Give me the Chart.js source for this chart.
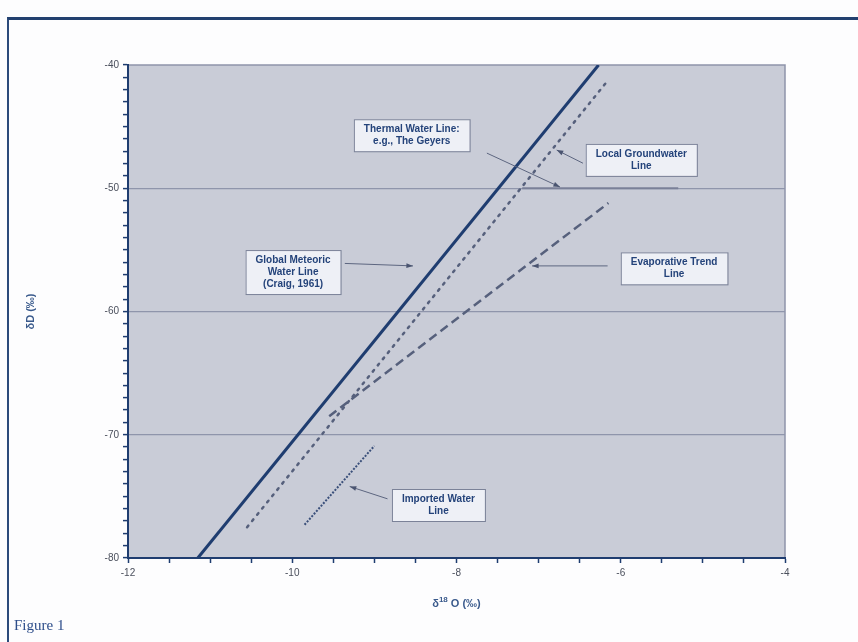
<!DOCTYPE html>
<html>
<head>
<meta charset="utf-8">
<script src="https://cdn.jsdelivr.net/npm/chart.js@4.4.1/dist/chart.umd.min.js"></script>
<style>
  html, body { margin: 0; padding: 0; background: #ffffff; }
  #wrap { position: relative; width: 858px; height: 642px; overflow: hidden; background: #fdfdfe; }
  #frame { position: absolute; left: 7px; top: 17px; width: 860px; height: 640px;
           border-top: 3px solid #22406f; border-left: 2px solid #2c4a7b; }
  #myChart { position: absolute; left: 0; top: 0; }
  #figlabel { position: absolute; left: 14px; top: 617px; font-family: "Liberation Serif", "DejaVu Serif", serif;
              font-size: 15px; color: #2d4d8a; }
</style>
</head>
<body>
<div id="wrap">
  <div id="frame"></div>
  <canvas id="myChart" width="858" height="642"></canvas>
  <div id="figlabel">Figure 1</div>
</div>
<script>
// Linien (delta18O, deltaD)
const gmwlX = [-11.15, -6.27];
const gmwlY = [-80, -40];
const localX = [-10.55, -6.15];
const localY = [-77.5, -41.2];
const evapX = [-9.55, -6.15];
const evapY = [-68.5, -51.2];
const importX = [-9.85, -9.0];
const importY = [-77.3, -70.9];
const thermalX = [-7.2, -5.3];
const thermalY = [-50, -50];

// Achsen
const xTicks = [-12, -10, -8, -6, -4];
const yTicks = [-40, -50, -60, -70, -80];

// Beschriftungen mit Pfeilen
const noteText = [
    ['Thermal Water Line:', 'e.g., The Geyers'],
    ['Local Groundwater', 'Line'],
    ['Global Meteoric', 'Water Line', '(Craig, 1961)'],
    ['Evaporative Trend', 'Line'],
    ['Imported Water', 'Line']
];
const noteX = [-8.545, -5.75, -9.99, -5.35, -8.22];
const noteY = [-45.7, -47.7, -56.8, -56.5, -75.7];
const arrowFromX = [-7.63, -6.46, -9.36, -6.16, -8.84];
const arrowFromY = [-47.15, -47.97, -56.1, -56.3, -75.2];
const arrowToX = [-6.74, -6.78, -8.53, -7.08, -9.30];
const arrowToY = [-49.9, -46.9, -56.3, -56.3, -74.2];

function pts(xs, ys) {
    return xs.map(function (x, i) { return { x: x, y: ys[i] }; });
}

const navy = '#1f3d70';

const bgPlugin = {
    id: 'bgPlugin',
    beforeDraw(chart) {
        const a = chart.chartArea;
        const c = chart.ctx;
        c.save();
        c.fillStyle = '#c9ccd7';
        c.fillRect(a.left, a.top, a.right - a.left, a.bottom - a.top);
        c.strokeStyle = '#8e94aa';
        c.lineWidth = 1.5;
        c.beginPath();
        c.moveTo(a.left, a.top);
        c.lineTo(a.right, a.top);
        c.lineTo(a.right, a.bottom);
        c.stroke();
        c.restore();
    }
};

const notePlugin = {
    id: 'notePlugin',
    afterDatasetsDraw(chart) {
        const c = chart.ctx;
        const xs = chart.scales.x;
        const ys = chart.scales.y;
        c.save();
        // Pfeile
        for (let i = 0; i < noteText.length; i++) {
            const x1 = xs.getPixelForValue(arrowFromX[i]);
            const y1 = ys.getPixelForValue(arrowFromY[i]);
            const x2 = xs.getPixelForValue(arrowToX[i]);
            const y2 = ys.getPixelForValue(arrowToY[i]);
            c.strokeStyle = '#5d6680';
            c.fillStyle = '#4a5470';
            c.lineWidth = 1;
            c.beginPath();
            c.moveTo(x1, y1);
            c.lineTo(x2, y2);
            c.stroke();
            const ang = Math.atan2(y2 - y1, x2 - x1);
            c.beginPath();
            c.moveTo(x2, y2);
            c.lineTo(x2 - 7 * Math.cos(ang - 0.35), y2 - 7 * Math.sin(ang - 0.35));
            c.lineTo(x2 - 7 * Math.cos(ang + 0.35), y2 - 7 * Math.sin(ang + 0.35));
            c.closePath();
            c.fill();
        }
        // Kästchen
        c.font = 'bold 10px "Liberation Sans", Arial, sans-serif';
        c.textAlign = 'center';
        c.textBaseline = 'middle';
        for (let i = 0; i < noteText.length; i++) {
            const lines = noteText[i];
            let w = 0;
            lines.forEach(function (l) { w = Math.max(w, c.measureText(l).width); });
            w += 20;
            const h = lines.length * 12 + 8;
            const cx = xs.getPixelForValue(noteX[i]);
            const cy = ys.getPixelForValue(noteY[i]);
            c.fillStyle = '#eef0f6';
            c.fillRect(cx - w / 2, cy - h / 2, w, h);
            c.strokeStyle = '#7b8298';
            c.lineWidth = 1;
            c.strokeRect(cx - w / 2 + 0.5, cy - h / 2 + 0.5, w, h);
            c.fillStyle = '#24437a';
            lines.forEach(function (l, k) {
                c.fillText(l, cx, cy - h / 2 + 10 + k * 12);
            });
        }
        c.restore();
    },
    afterDraw(chart) {
        const c = chart.ctx;
        const a = chart.chartArea;
        c.save();
        c.fillStyle = '#3a5a8c';
        c.font = 'bold 11px "Liberation Sans", Arial, sans-serif';
        c.textBaseline = 'middle';
        // x-Achsentitel
        const cx = (a.left + a.right) / 2;
        const y = 604;
        const p1 = 'δ';
        const p3 = ' O (‰)';
        c.font = 'bold 11px "Liberation Sans", Arial, sans-serif';
        const w1 = c.measureText(p1).width;
        const w3 = c.measureText(p3).width;
        c.font = 'bold 8px "Liberation Sans", Arial, sans-serif';
        const w2 = c.measureText('18').width;
        let x = cx - (w1 + w2 + w3) / 2;
        c.textAlign = 'left';
        c.font = 'bold 11px "Liberation Sans", Arial, sans-serif';
        c.fillText(p1, x, y);
        c.font = 'bold 8px "Liberation Sans", Arial, sans-serif';
        c.fillText('18', x + w1, y - 4);
        c.font = 'bold 11px "Liberation Sans", Arial, sans-serif';
        c.fillText(p3, x + w1 + w2, y);
        // y-Achsentitel
        c.translate(31, (a.top + a.bottom) / 2);
        c.rotate(-Math.PI / 2);
        c.textAlign = 'center';
        c.fillText('δD (‰)', 0, 0);
        c.restore();
    }
};

function isMajor(v, step) {
    return Math.abs(v - Math.round(v / step) * step) < 1e-6;
}

const ctx = document.getElementById('myChart').getContext('2d');
new Chart(ctx, {
    type: 'scatter',
    data: {
        datasets: [
            { label: 'Thermal', data: pts(thermalX, thermalY), showLine: true, borderColor: '#7a8098',
              borderWidth: 2, pointRadius: 0 },
            { label: 'GMWL', data: pts(gmwlX, gmwlY), showLine: true, borderColor: navy,
              borderWidth: 3, pointRadius: 0 },
            { label: 'Local', data: pts(localX, localY), showLine: true, borderColor: '#56607c',
              borderWidth: 2.5, borderDash: [2, 6], borderCapStyle: 'round', pointRadius: 0 },
            { label: 'Evaporative', data: pts(evapX, evapY), showLine: true, borderColor: '#56607c',
              borderWidth: 2.5, borderDash: [9, 5], pointRadius: 0 },
            { label: 'Imported', data: pts(importX, importY), showLine: true, borderColor: '#3a4f7a',
              borderWidth: 2, borderDash: [2, 1.5], pointRadius: 0 }
        ]
    },
    options: {
        responsive: false,
        animation: false,
        layout: { padding: { top: 65, right: 73, left: 0, bottom: 0 } },
        plugins: { legend: { display: false }, tooltip: { enabled: false } },
        scales: {
            x: {
                type: 'linear',
                min: -12,
                max: -4,
                afterFit: function (s) { s.height = 84; },
                ticks: {
                    stepSize: 0.5,
                    autoSkip: false,
                    maxRotation: 0,
                    padding: 4,
                    color: '#4a4f5c',
                    font: { size: 10, family: '"Liberation Sans", Arial, sans-serif' },
                    callback: function (v) { return xTicks.indexOf(v) >= 0 ? String(v) : ''; }
                },
                grid: { drawOnChartArea: false, tickLength: 5, tickColor: navy, tickWidth: 1.5 },
                border: { color: navy, width: 2 }
            },
            y: {
                type: 'linear',
                min: -80,
                max: -40,
                afterFit: function (s) { s.width = 128; },
                ticks: {
                    stepSize: 1,
                    autoSkip: false,
                    padding: 4,
                    color: '#4a4f5c',
                    font: { size: 10, family: '"Liberation Sans", Arial, sans-serif' },
                    callback: function (v) { return yTicks.indexOf(v) >= 0 ? String(v) : ''; }
                },
                grid: {
                    tickLength: 5,
                    tickColor: navy,
                    tickWidth: 1.5,
                    color: function (c) {
                        const v = c.tick ? c.tick.value : 0;
                        return (isMajor(v, 10) && v > -80 && v < -40) ? '#8f95ab' : 'rgba(0,0,0,0)';
                    },
                    lineWidth: 1.2
                },
                border: { color: navy, width: 2 }
            }
        }
    },
    plugins: [bgPlugin, notePlugin]
});
</script>
</body>
</html>
